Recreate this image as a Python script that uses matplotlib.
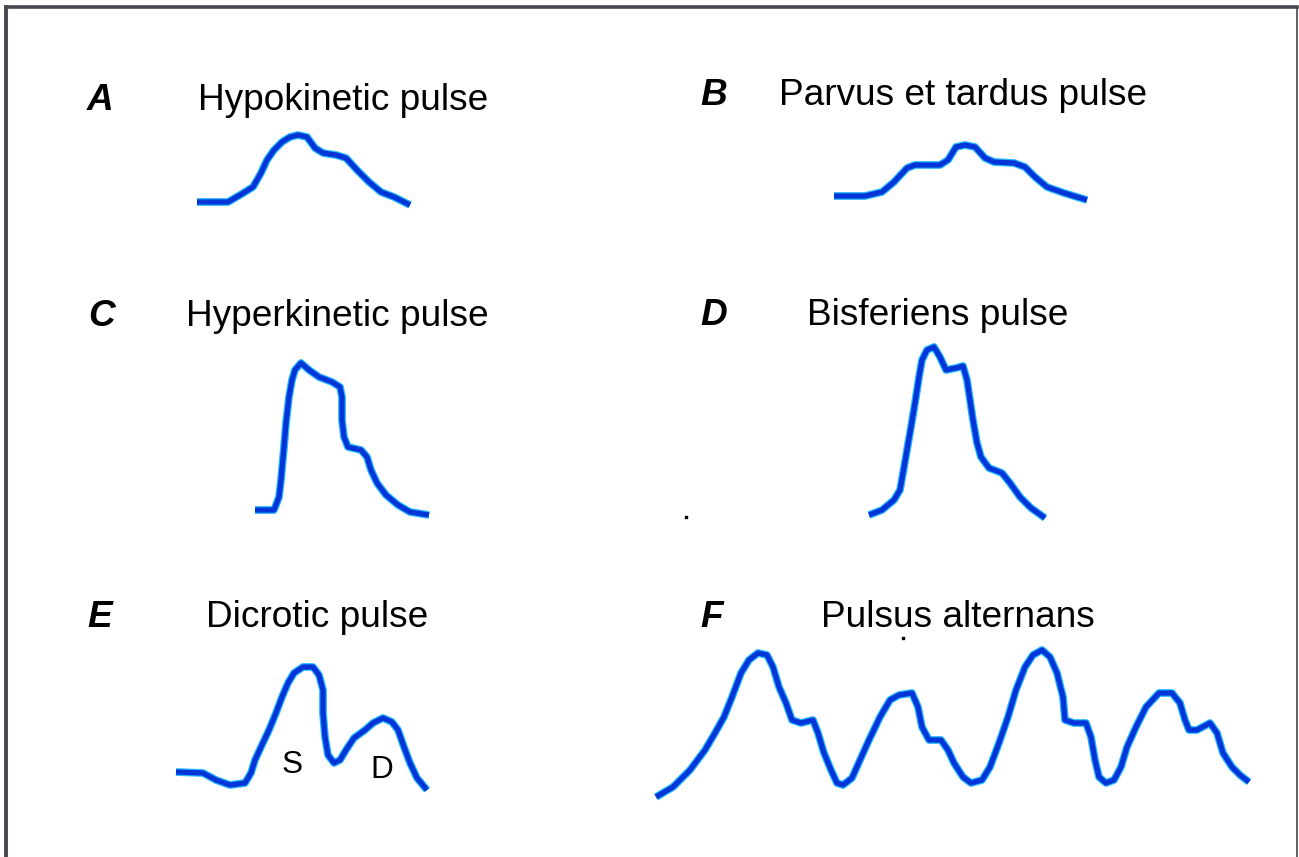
import matplotlib
matplotlib.use("Agg")
import matplotlib.pyplot as plt

# ---- data (pixel-space traces) ----
a_x = [197, 228, 240, 253, 261, 267, 274, 282, 290, 298, 307, 315, 323, 336, 346, 357, 369, 381, 394, 410]
a_y = [202, 202, 195, 187, 173, 160, 150, 142, 137, 135, 137, 148, 153, 155, 158, 170, 182, 192, 197, 205]

b_x = [834, 865, 882, 894, 907, 915, 940, 948, 956, 965, 975, 985, 994, 1014, 1025, 1035, 1047, 1064, 1087]
b_y = [196, 196, 192, 182, 168, 165, 165, 160, 147, 145, 147, 158, 162, 163, 167, 177, 187, 193, 200]

c_x = [255, 274, 279, 281, 284, 286, 289, 292, 295, 301, 309, 319, 332, 340, 342, 342, 344, 348, 361, 367, 371, 377, 386, 398, 410, 429]
c_y = [510, 510, 497, 480, 447, 423, 397, 380, 370, 363, 370, 377, 382, 387, 397, 420, 437, 447, 450, 457, 470, 483, 495, 505, 512, 515]

d_x = [869, 882, 894, 900, 903, 907, 911, 915, 919, 922, 927, 934, 940, 946, 956, 963, 967, 970, 973, 977, 981, 989, 1002, 1010, 1020, 1031, 1045]
d_y = [515, 510, 500, 490, 473, 450, 427, 403, 377, 360, 350, 347, 357, 370, 368, 366, 380, 400, 420, 443, 457, 468, 473, 483, 497, 508, 518]

e_x = [176, 203, 216, 230, 245, 251, 255, 261, 269, 276, 282, 288, 294, 303, 313, 319, 323, 323, 325, 328, 334, 340, 346, 354, 365, 373, 383, 392, 398, 404, 410, 417, 427]
e_y = [772, 773, 780, 785, 783, 773, 760, 747, 730, 713, 697, 683, 673, 667, 667, 675, 690, 713, 737, 755, 763, 760, 750, 738, 730, 723, 718, 722, 730, 747, 763, 778, 790]

f_x = [656, 673, 690, 705, 715, 724, 732, 741, 749, 758, 767, 773, 779, 786, 792, 801, 813, 818, 824, 831, 837, 843, 852, 860, 869, 880, 890, 899, 912, 918, 922, 929, 941, 948, 954, 963, 971, 982, 990, 999, 1008, 1016, 1025, 1033, 1042, 1050, 1057, 1063, 1065, 1074, 1086, 1091, 1095, 1099, 1106, 1114, 1121, 1127, 1136, 1146, 1159, 1172, 1180, 1185, 1189, 1197, 1210, 1217, 1223, 1232, 1240, 1249]
f_y = [797, 787, 770, 750, 733, 717, 697, 673, 660, 653, 655, 667, 687, 703, 720, 723, 720, 733, 753, 770, 783, 785, 778, 760, 740, 717, 700, 695, 693, 707, 727, 740, 740, 750, 763, 777, 783, 780, 767, 743, 717, 690, 667, 655, 650, 657, 673, 697, 720, 723, 723, 737, 760, 777, 783, 780, 767, 747, 727, 707, 693, 693, 703, 720, 730, 730, 723, 733, 753, 767, 775, 782]

letters = ["A", "B", "C", "D", "E", "F"]
titles = ["Hypokinetic pulse", "Parvus et tardus pulse", "Hyperkinetic pulse",
          "Bisferiens pulse", "Dicrotic pulse", "Pulsus alternans"]
wave_labels = ["S", "D"]
stray_x = [686, 903]
stray_y = [517, 638]

# ---- figure ----
W, H = 1299, 857
fig = plt.figure(figsize=(W / 100, H / 100), dpi=100)
left, right, top = 6, 1297, 7
ax = fig.add_axes([left / W, 0, (right - left) / W, (H - top) / H])
ax.set_xlim(left, right)
ax.set_ylim(H, top)
ax.set_xticks([])
ax.set_yticks([])
for s in ["top", "left", "right"]:
    ax.spines[s].set_color("#46464e")
ax.spines["top"].set_linewidth(2.6)
ax.spines["left"].set_linewidth(2.8)
ax.spines["right"].set_linewidth(1.2)
ax.spines["bottom"].set_visible(False)

curves = [(a_x, a_y), (b_x, b_y), (c_x, c_y), (d_x, d_y), (e_x, e_y), (f_x, f_y)]
for xs, ys in curves:
    ax.plot(xs, ys, color="#2ab8ff", lw=5.6, solid_joinstyle="round", solid_capstyle="butt", zorder=2)
    ax.plot(xs, ys, color="#0036d8", lw=3.8, solid_joinstyle="round", solid_capstyle="butt", zorder=3)

fs_pt = 37 * 72 / 100
font = ["Liberation Sans", "DejaVu Sans"]
letter_pos = [(100, 110), (714, 105), (102, 326), (714, 325), (100, 627), (712, 627)]
title_pos = [(343, 110), (963, 105), (337, 326), (938, 325), (317, 627), (958, 627)]
for lt, (lx, ly) in zip(letters, letter_pos):
    ax.text(lx, ly, lt, ha="center", va="baseline", fontsize=fs_pt,
            fontweight="bold", fontstyle="italic", family=font, color="black")
for tt, (tx, ty) in zip(titles, title_pos):
    ax.text(tx, ty, tt, ha="center", va="baseline", fontsize=fs_pt, family=font, color="black")

for lab, (sx, sy) in zip(wave_labels, [(292, 773), (382, 778)]):
    ax.text(sx, sy, lab, ha="center", va="baseline", fontsize=fs_pt * 0.85, family=font, color="black")

ax.scatter(stray_x, stray_y, s=4, marker="s", color="black", zorder=4)

fig.savefig("out.png", dpi=100)
